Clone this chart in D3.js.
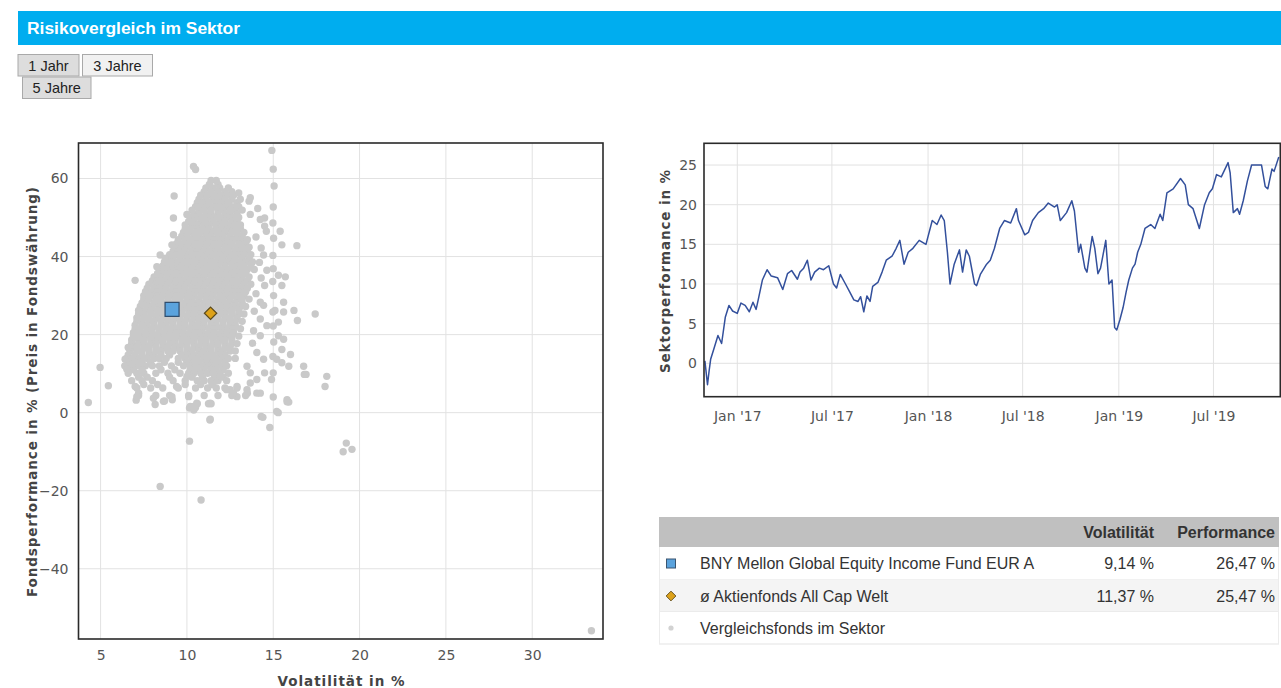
<!DOCTYPE html>
<html><head><meta charset="utf-8">
<script src="https://cdn.jsdelivr.net/npm/d3@7"></script>
<style>body{margin:0;background:#fff;overflow:hidden}svg{display:block}</style>
</head><body><svg id="c" width="1281" height="688"></svg>
<script>
// ---------- data ----------
const titleText = "Risikovergleich im Sektor";
const periodButtons = ["1 Jahr", "3 Jahre", "5 Jahre"];
const volTicks = [5, 10, 15, 20, 25, 30];
const perfTicks = [-40, -20, 0, 20, 40, 60];
const sectorTicks = [0, 5, 10, 15, 20, 25];
const legendNames = ["BNY Mellon Global Equity Income Fund EUR A", "ø Aktienfonds All Cap Welt", "Vergleichsfonds im Sektor"];
const legendVol = [9.14, 11.37, null];
const legendPerf = [26.47, 25.47, null];
const tableHeaders = ["Volatilität", "Performance"];

// sector funds, dense core read row by row: [performance, [volatilities...]]
const sectorRows = [
 [59.5,[11.4,11.7]],
 [58.5,[11.3,11.8]],
 [57.6,[11.1,11.5,11.9,12.4]],
 [56.6,[11.0,11.4,11.8,12.2,12.6]],
 [55.7,[10.8,11.2,11.6,12.0,12.3,12.7]],
 [54.7,[10.7,11.1,11.5,11.8,12.2,12.6]],
 [53.8,[10.6,10.9,11.3,11.7,12.0,12.4,12.9]],
 [52.8,[10.5,10.8,11.2,11.6,11.9,12.3,12.6,13.0]],
 [51.9,[10.3,10.7,11.0,11.4,11.8,12.1,12.5,12.8,13.2]],
 [50.9,[10.4,10.7,11.1,11.4,11.8,12.2,12.5,12.9]],
 [50.0,[10.2,10.5,10.9,11.2,11.6,11.9,12.3,12.7,13.0]],
 [49.0,[10.1,10.4,10.8,11.1,11.5,11.9,12.2,12.6,12.9]],
 [48.1,[9.9,10.3,10.6,11.0,11.3,11.7,12.1,12.4,12.8,13.1]],
 [47.1,[9.9,10.2,10.6,10.9,11.3,11.7,12.0,12.4,12.7,13.1]],
 [46.2,[9.8,10.1,10.5,10.8,11.2,11.5,11.9,12.2,12.6,12.9,13.3]],
 [45.2,[9.7,10.0,10.4,10.7,11.1,11.4,11.8,12.1,12.5,12.9,13.2]],
 [44.3,[9.5,9.9,10.2,10.6,10.9,11.3,11.6,12.0,12.4,12.7,13.1,13.5]],
 [43.3,[9.4,9.8,10.1,10.5,10.8,11.2,11.6,11.9,12.3,12.6,13.0,13.4]],
 [42.4,[9.3,9.7,10.0,10.4,10.7,11.1,11.5,11.8,12.2,12.5,12.9,13.2,13.6]],
 [41.4,[9.2,9.5,9.9,10.3,10.6,11.0,11.3,11.7,12.0,12.4,12.8,13.1,13.5]],
 [40.5,[9.0,9.4,9.8,10.1,10.5,10.8,11.2,11.5,11.9,12.3,12.6,13.0,13.3,13.7]],
 [39.5,[8.9,9.2,9.6,10.0,10.3,10.7,11.0,11.4,11.8,12.1,12.5,12.8,13.2,13.6]],
 [38.6,[8.7,9.1,9.5,9.8,10.2,10.5,10.9,11.3,11.6,12.0,12.3,12.7,13.1,13.4,13.8]],
 [37.6,[8.6,8.9,9.3,9.7,10.0,10.4,10.8,11.1,11.5,11.8,12.2,12.6,12.9,13.3,13.7]],
 [36.7,[8.4,8.8,9.2,9.5,9.9,10.3,10.6,11.0,11.3,11.7,12.1,12.4,12.8,13.1,13.5,13.9]],
 [35.7,[8.3,8.6,9.0,9.4,9.7,10.1,10.5,10.8,11.2,11.5,11.9,12.3,12.6,13.0,13.4]],
 [34.8,[8.1,8.5,8.9,9.2,9.6,10.0,10.3,10.7,11.0,11.4,11.8,12.1,12.5,12.8,13.2,13.6]],
 [33.8,[8.0,8.3,8.7,9.1,9.4,9.8,10.2,10.5,10.9,11.3,11.6,12.0,12.3,12.7,13.1,13.5]],
 [32.9,[7.8,8.2,8.6,8.9,9.3,9.7,10.0,10.4,10.8,11.1,11.5,11.9,12.2,12.6,12.9,13.3,13.7]],
 [31.9,[7.7,8.1,8.4,8.8,9.2,9.5,9.9,10.3,10.6,11.0,11.4,11.7,12.1,12.4,12.8,13.2,13.5]],
 [31.0,[7.6,8.0,8.3,8.7,9.1,9.4,9.8,10.2,10.5,10.9,11.2,11.6,12.0,12.3,12.7,13.0,13.4]],
 [30.0,[7.5,7.9,8.3,8.6,9.0,9.4,9.7,10.1,10.4,10.8,11.2,11.5,11.9,12.3,12.6,13.0,13.3]],
 [29.1,[7.5,7.8,8.2,8.5,8.9,9.3,9.6,10.0,10.3,10.7,11.1,11.4,11.8,12.1,12.5,12.9,13.2,13.6]],
 [28.1,[7.4,7.7,8.1,8.4,8.8,9.2,9.5,9.9,10.2,10.6,11.0,11.3,11.7,12.1,12.4,12.8,13.2]],
 [27.2,[7.3,7.7,8.0,8.4,8.7,9.1,9.5,9.8,10.2,10.5,10.9,11.3,11.6,12.0,12.3,12.7,13.1,13.4]],
 [26.2,[7.2,7.6,7.9,8.3,8.6,9.0,9.4,9.7,10.1,10.5,10.8,11.2,11.5,11.9,12.3,12.6,13.0]],
 [25.3,[7.2,7.5,7.9,8.3,8.6,9.0,9.4,9.7,10.1,10.4,10.8,11.2,11.5,11.9,12.2,12.6,13.0,13.3]],
 [24.3,[7.1,7.5,7.8,8.2,8.6,8.9,9.3,9.6,10.0,10.4,10.7,11.1,11.5,11.8,12.2,12.5,12.9]],
 [23.4,[7.1,7.4,7.8,8.1,8.5,8.9,9.2,9.6,9.9,10.3,10.7,11.0,11.4,11.7,12.1,12.5,12.8,13.2]],
 [22.4,[7.0,7.4,7.7,8.1,8.5,8.8,9.2,9.6,9.9,10.3,10.6,11.0,11.4,11.7,12.1,12.5,12.8]],
 [21.5,[7.0,7.3,7.7,8.0,8.4,8.8,9.1,9.5,9.8,10.2,10.6,10.9,11.3,11.6,12.0,12.4,12.7,13.1]],
 [20.5,[6.9,7.3,7.6,8.0,8.4,8.7,9.1,9.4,9.8,10.2,10.5,10.9,11.3,11.6,12.0,12.3,12.7]],
 [19.6,[6.9,7.2,7.6,8.0,8.3,8.7,9.0,9.4,9.8,10.1,10.5,10.8,11.2,11.6,11.9,12.3,12.6,13.0]],
 [18.6,[6.8,7.2,7.5,7.9,8.3,8.6,9.0,9.3,9.7,10.1,10.4,10.8,11.1,11.5,11.9,12.2,12.6]],
 [17.7,[6.8,7.2,7.5,7.9,8.2,8.6,9.0,9.3,9.7,10.0,10.4,10.8,11.1,11.5,11.8,12.2,12.6,12.9]],
 [16.7,[6.8,7.1,7.5,7.8,8.2,8.6,8.9,9.3,9.6,10.0,10.4,10.7,11.1,11.4,11.8,12.2,12.5]],
 [15.8,[6.7,7.1,7.4,7.8,8.2,8.5,8.9,9.2,9.6,10.0,10.3,10.7,11.0,11.4,11.8,12.1,12.5,12.8]],
 [14.8,[6.6,7.0,7.4,7.8,8.1,8.5,9.0,9.7,10.1,10.4,10.8,11.2,11.5,11.9,12.2]],
 [13.9,[6.5,6.9,7.3,7.7,8.1,8.4,8.8,9.5,9.9,10.3,10.6,11.0,11.3,11.7,12.1,12.4,12.8]],
 [12.9,[6.6,7.0,7.4,7.9,8.7,9.5,10.0,10.4,10.7,11.1,11.5,11.8,12.2]],
 [12.0,[6.4,6.8,7.2,7.6,8.0,8.4,9.1,9.8,10.2,10.5,10.9,11.3,11.6,12.0,12.3]],
 [11.0,[6.9,7.4,8.5,9.3,10.2,10.6,11.0,11.4,11.7,12.1]],
 [10.1,[6.6,7.1,7.5,8.2,8.9,9.6,10.1,10.4,10.8,11.2,11.5,11.9,12.4]],
 [9.1,[7.2,7.7,9.0,10.3,10.9,11.6,12.1]],
 [8.2,[6.8,7.4,8.0,9.2,9.9,10.6,11.0,11.4,11.8,12.3]],
 [7.2,[7.5,8.3,9.9,10.8,11.5]],
 [6.3,[7.1,7.9,8.6,9.5,10.5,11.2,11.7,12.2,12.9]],
 [4.4,[7.2,8.2,9.0,10.1,11.0,11.8,12.6,13.4]]
];
// scattered sector funds outside the core: [volatility, performance]
const sectorExtra = [
 [14.92,67.2],[15.0,62.4],[15.05,58.1],[15.0,52.7],[10.38,63.1],[10.5,62.3],[9.26,55.5],[7.0,33.9],[4.97,11.6],[4.29,2.6],
 [5.45,6.9],[17.43,25.3],[16.37,42.8],[16.76,11.9],[16.8,9.8],[15.8,2.8],[15.2,0.3],[14.3,-1.0],[11.35,-1.7],[11.25,2.3],
 [10.15,-7.3],[8.45,-18.9],[10.82,-22.4],[11.33,-1.9],[14.4,-1.2],[14.8,-3.8],[15.29,0.0],[19.23,-7.8],[19.05,-10.0],[19.56,-9.4],
 [33.43,-55.9],[10.6,2.3],[10.5,1.3],[10.15,1.2],[11.4,2.3],[7.06,3.2],[8.16,2.1],[8.7,3.0],[9.15,3.3],[15.9,2.7],
 [14.98,48.6],[15.02,44.7],[14.98,40.3],[15.0,36.9],[14.97,33.6],[15.02,30.0],[14.98,25.8],[15.0,22.2],[15.03,18.1],[14.98,14.4],
 [15.0,10.2],[15.0,4.0],
 [13.09,54.7],[13.67,55.1],[13.67,50.8],[14.25,49.5],[14.5,49.9],[14.5,47.8],[14.6,46.5],[15.4,46.5],[15.5,43.0],[14.44,40.4],
 [14.63,36.5],[15.3,35.2],[15.7,34.8],[15.5,32.6],[14.5,32.6],[14.25,28.3],[14.44,27.5],[15.6,28.3],[15.1,26.2],[15.6,25.8],
 [16.2,26.2],[16.4,23.6],[14.25,24.0],[14.63,22.3],[15.3,23.2],[13.86,21.0],[14.25,19.7],[15.3,19.7],[15.6,18.8],[15.5,16.2],
 [16.0,14.9],[14.05,15.4],[14.44,13.7],[15.2,13.7],[15.5,12.8],[15.9,11.9],[16.9,9.8],[18.1,9.3],[18.0,6.7],[13.48,11.9],
 [13.67,10.2],[14.5,10.2],[14.9,8.5],[13.48,5.9],[14.05,5.0],[15.8,3.3],[12.5,5.9],[12.9,4.1],[10.19,1.6],[11.35,2.4],[10.4,0.7],
 [8.26,37.4],[8.45,40.4],[8.74,39.6],[9.13,43.0],[9.22,49.9],[9.22,45.6],[10.0,50.8],[6.6,16.7],[6.42,13.7],[6.81,12.4],
 [6.52,11.1],[7.0,6.7],[7.2,5.0],[7.1,4.1],[8.06,3.7],[8.64,2.9],[9.13,4.1],[9.4,6.7],[10.0,9.3],[10.1,4.1],
 [10.38,1.6],[10.57,2.4],[11.45,7.2],[11.93,9.3],[12.3,5.9],[12.7,5.0],[12.9,6.7],[13.5,5.0],[13.67,7.6],[14.05,8.5],[14.25,5.0],
 [13.6,54.2],[13.0,56.3],[14.1,52.3],[14.0,45.0],[14.3,42.2],[14.2,38.5],[14.3,34.5],[14.0,30.5],[13.9,26.0],[13.8,17.8]
];

// sector performance line
const lineDates = ["2016-10-31","2016-11-05","2016-11-08","2016-11-11","2016-11-18","2016-11-25","2016-12-02","2016-12-09","2016-12-16","2016-12-23",
 "2017-01-01","2017-01-08","2017-01-16","2017-01-24","2017-01-31","2017-02-06","2017-02-10","2017-02-18","2017-02-27","2017-03-07",
 "2017-03-19","2017-03-29","2017-04-07","2017-04-15","2017-04-26","2017-05-01","2017-05-08","2017-05-15","2017-05-22","2017-05-29",
 "2017-06-07","2017-06-15","2017-06-25","2017-07-04","2017-07-10","2017-07-17","2017-07-27","2017-08-04","2017-08-12","2017-08-20",
 "2017-08-25","2017-08-31","2017-09-06","2017-09-12","2017-09-17","2017-09-27","2017-10-05","2017-10-13","2017-10-24","2017-11-01",
 "2017-11-08","2017-11-16","2017-11-24","2017-12-03","2017-12-15","2017-12-28","2018-01-09","2018-01-18","2018-01-26","2018-02-01",
 "2018-02-07","2018-02-12","2018-02-20","2018-03-02","2018-03-08","2018-03-15","2018-03-21","2018-03-31","2018-04-04","2018-04-11",
 "2018-04-23","2018-04-30","2018-05-08","2018-05-18","2018-05-27","2018-06-08","2018-06-19","2018-06-23","2018-07-05","2018-07-12",
 "2018-07-20","2018-07-31","2018-08-10","2018-08-19","2018-08-31","2018-09-05","2018-09-11","2018-09-23","2018-10-03","2018-10-08",
 "2018-10-16","2018-10-20","2018-10-28","2018-11-01","2018-11-11","2018-11-16","2018-11-22","2018-11-27","2018-12-07","2018-12-13",
 "2018-12-19","2018-12-24","2018-12-28","2019-01-03","2019-01-09","2019-01-15","2019-01-20","2019-01-27","2019-02-01","2019-02-06",
 "2019-02-12","2019-02-20","2019-03-03","2019-03-11","2019-03-21","2019-03-26","2019-04-03","2019-04-15","2019-04-29","2019-05-08",
 "2019-05-14","2019-05-23","2019-06-04","2019-06-14","2019-06-23","2019-06-29","2019-07-07","2019-07-16","2019-07-29","2019-08-02",
 "2019-08-08","2019-08-16","2019-08-20","2019-08-27","2019-09-04","2019-09-12","2019-10-01","2019-10-08","2019-10-13","2019-10-21",
 "2019-10-25","2019-11-03"];
const lineValues = [0.3,-2.7,-1.0,0.5,2.0,3.5,2.5,5.8,7.3,6.6,
 6.3,7.6,7.3,6.5,7.7,6.8,8.0,10.5,11.8,11.0,
 10.8,9.3,11.3,11.7,10.6,11.5,12.0,13.0,10.5,11.5,
 12.0,11.8,12.3,10.0,9.5,11.2,10.0,9.0,8.0,7.8,
 8.4,6.5,8.5,7.8,9.7,10.2,11.5,13.0,13.5,14.5,
 15.5,12.5,14.0,14.5,15.5,15.0,18.0,17.5,18.7,18.0,
 14.0,10.0,12.5,14.3,11.5,14.3,13.5,10.0,9.8,11.2,
 12.5,13.0,14.5,17.0,18.0,17.7,19.5,18.0,16.2,16.5,
 18.0,19.0,19.5,20.2,19.7,20.0,18.0,19.0,20.5,19.2,
 14.0,15.0,12.0,11.5,16.0,14.5,11.3,12.0,15.5,10.0,
 10.5,4.5,4.2,5.5,7.0,9.0,10.5,12.0,12.5,14.0,
 15.0,17.0,17.5,17.0,18.8,18.0,21.5,22.0,23.3,22.5,
 20.0,19.5,17.0,20.0,21.5,22.0,23.8,23.5,25.3,24.0,
 19.0,19.5,18.8,20.5,23.0,25.0,25.0,22.3,22.0,24.5,
 24.2,26.0];

// ---------- drawing ----------
const svg = d3.select("#c");
const FONT_AX = "DejaVu Sans, Verdana, sans-serif";
const FONT_UI = "Liberation Sans, Arial, sans-serif";

// title bar
svg.append("rect").attr("x", 18).attr("y", 11).attr("width", 1263).attr("height", 34).attr("fill", "#00adef");
svg.append("text").attr("x", 27).attr("y", 33.5).text(titleText)
  .attr("fill", "#fff").attr("font-family", FONT_UI).attr("font-weight", "bold").attr("font-size", 16)
  .attr("textLength", 213).attr("lengthAdjust", "spacingAndGlyphs");

// period buttons
const btnBoxes = [[18, 54.5, 61, 21.5, "#dddddd"], [82.5, 54.5, 70, 21.5, "#f1f1f1"], [22.5, 77, 68.5, 21.5, "#dddddd"]];
periodButtons.forEach((label, i) => {
  const b = btnBoxes[i];
  const g = svg.append("g");
  g.append("rect").attr("x", b[0]).attr("y", b[1]).attr("width", b[2]).attr("height", b[3])
    .attr("fill", b[4]).attr("stroke", "#a9a9a9").attr("stroke-width", 1);
  g.append("text").attr("x", b[0] + b[2] / 2).attr("y", b[1] + 16).attr("text-anchor", "middle")
    .attr("font-family", FONT_UI).attr("font-size", 14.5).attr("fill", "#222").text(label);
});

// ---------- scatter ----------
const sx = d3.scaleLinear().domain([3.72, 34.1]).range([78.5, 603]);
const sy = d3.scaleLinear().domain([-58.0, 69.1]).range([639, 143]);
const sp = svg.append("g");
sp.append("g").selectAll("line").data(volTicks).join("line")
  .attr("x1", d => sx(d)).attr("x2", d => sx(d)).attr("y1", 143).attr("y2", 639)
  .attr("stroke", "#e2e2e2").attr("stroke-width", 1);
sp.append("g").selectAll("line").data(perfTicks).join("line")
  .attr("y1", d => sy(d)).attr("y2", d => sy(d)).attr("x1", 78.5).attr("x2", 603)
  .attr("stroke", "#e2e2e2").attr("stroke-width", 1);

const sectorPts = sectorRows.flatMap(r => r[1].map(v => [v, r[0]])).concat(sectorExtra);
sp.append("g").selectAll("circle").data(sectorPts).join("circle")
  .attr("cx", d => sx(d[0])).attr("cy", d => sy(d[1])).attr("r", 3.7).attr("fill", "#c9c9c9");

// fund square and average diamond
sp.append("rect").attr("x", sx(legendVol[0]) - 7).attr("y", sy(legendPerf[0]) - 7).attr("width", 14).attr("height", 14)
  .attr("fill", "#5ba3dd").attr("stroke", "#2d4b6b").attr("stroke-width", 1.2);
sp.append("path").attr("d", d3.symbol(d3.symbolDiamond2, 98)())
  .attr("transform", `translate(${sx(legendVol[1])},${sy(legendPerf[1])})`)
  .attr("fill", "#dda21a").attr("stroke", "#5b4a1c").attr("stroke-width", 1.2);

sp.append("rect").attr("x", 78.5).attr("y", 143).attr("width", 524.5).attr("height", 496)
  .attr("fill", "none").attr("stroke", "#2a2a2a").attr("stroke-width", 1.6);

const xAx = sp.append("g").attr("transform", "translate(0,639)")
  .call(d3.axisBottom(sx).tickValues(volTicks).tickSize(0).tickPadding(11));
const yAx = sp.append("g").attr("transform", "translate(78.5,0)")
  .call(d3.axisLeft(sy).tickValues(perfTicks).tickSize(0).tickPadding(10));
[xAx, yAx].forEach(a => {
  a.select(".domain").remove();
  a.selectAll("text").attr("font-family", FONT_AX).attr("font-size", 14).attr("fill", "#555");
});
sp.append("text").attr("x", 341).attr("y", 686).attr("text-anchor", "middle")
  .attr("font-family", FONT_AX).attr("font-weight", "bold").attr("font-size", 13.5).attr("fill", "#444")
  .attr("textLength", 127).attr("lengthAdjust", "spacing").text("Volatilität in %");
sp.append("text").attr("transform", "translate(37,392) rotate(-90)").attr("text-anchor", "middle")
  .attr("font-family", FONT_AX).attr("font-weight", "bold").attr("font-size", 13.5).attr("fill", "#444")
  .attr("textLength", 410).attr("lengthAdjust", "spacing").text("Fondsperformance in % (Preis in Fondswährung)");

// ---------- sector line ----------
const lx = d3.scaleUtc().domain([new Date(Date.UTC(2016, 9, 29, 7)), new Date(Date.UTC(2019, 10, 5, 22))]).range([704, 1280.3]);
const ly = d3.scaleLinear().domain([-4.21, 27.74]).range([396.7, 143.3]);
const lp = svg.append("g");
const monthTicks = lx.ticks(d3.utcMonth.every(6));
lp.append("g").selectAll("line").data(monthTicks).join("line")
  .attr("x1", d => lx(d)).attr("x2", d => lx(d)).attr("y1", 143.3).attr("y2", 396.7)
  .attr("stroke", "#e2e2e2");
lp.append("g").selectAll("line").data(sectorTicks).join("line")
  .attr("y1", d => ly(d)).attr("y2", d => ly(d)).attr("x1", 704).attr("x2", 1280.3)
  .attr("stroke", "#e2e2e2");
const lineData = lineDates.map((d, i) => [new Date(d), lineValues[i]]);
lp.append("path").datum(lineData)
  .attr("d", d3.line().x(d => lx(d[0])).y(d => ly(d[1])))
  .attr("fill", "none").attr("stroke", "#33509c").attr("stroke-width", 1.5).attr("stroke-linejoin", "round");
lp.append("rect").attr("x", 704).attr("y", 143.3).attr("width", 576.3).attr("height", 253.4)
  .attr("fill", "none").attr("stroke", "#2a2a2a").attr("stroke-width", 1.6);
const lxAx = lp.append("g").attr("transform", "translate(0,396.7)")
  .call(d3.axisBottom(lx).tickValues(monthTicks).tickFormat(d3.utcFormat("%b '%y")).tickSize(0).tickPadding(14));
const lyAx = lp.append("g").attr("transform", "translate(704,0)")
  .call(d3.axisLeft(ly).tickValues(sectorTicks).tickSize(0).tickPadding(7));
[lxAx, lyAx].forEach(a => {
  a.select(".domain").remove();
  a.selectAll("text").attr("font-family", FONT_AX).attr("font-size", 14).attr("fill", "#555");
});
lp.append("text").attr("transform", "translate(670,271.5) rotate(-90)").attr("text-anchor", "middle")
  .attr("font-family", FONT_AX).attr("font-weight", "bold").attr("font-size", 13.5).attr("fill", "#444")
  .attr("textLength", 203).attr("lengthAdjust", "spacing").text("Sektorperformance in %");

// ---------- legend table ----------
const tb = svg.append("g");
const tL = 659, tR = 1279;
tb.append("rect").attr("x", tL).attr("y", 517).attr("width", tR - tL).attr("height", 30).attr("fill", "#c0c0c0");
const rowTops = [547, 580, 612];
const rowFill = ["#ffffff", "#f4f4f4", "#ffffff"];
rowTops.forEach((t, i) => {
  const h = (i < 2 ? rowTops[i + 1] : 644) - t;
  tb.append("rect").attr("x", tL).attr("y", t).attr("width", tR - tL).attr("height", h).attr("fill", rowFill[i]);
  tb.append("line").attr("x1", tL).attr("x2", tR).attr("y1", t + h).attr("y2", t + h).attr("stroke", "#e3e3e3");
});
tb.append("line").attr("x1", tL + 0.5).attr("x2", tL + 0.5).attr("y1", 547).attr("y2", 644).attr("stroke", "#ececec");
tb.append("line").attr("x1", tR - 0.5).attr("x2", tR - 0.5).attr("y1", 547).attr("y2", 644).attr("stroke", "#ececec");
const colRight = [1154, 1275];
tableHeaders.forEach((h, i) => {
  tb.append("text").attr("x", colRight[i]).attr("y", 538).attr("text-anchor", "end")
    .attr("font-family", FONT_UI).attr("font-weight", "bold").attr("font-size", 16).attr("fill", "#333").text(h);
});
const fmt = v => v.toFixed(2).replace(".", ",") + " %";
legendNames.forEach((n, i) => {
  const t = rowTops[i];
  const h = (i < 2 ? rowTops[i + 1] : 644) - t;
  const cy = t + h / 2;
  if (i === 0) tb.append("rect").attr("x", 666.5).attr("y", cy - 4.5).attr("width", 9).attr("height", 9)
    .attr("fill", "#5ba3dd").attr("stroke", "#3a5570").attr("stroke-width", 1);
  if (i === 1) tb.append("path").attr("d", d3.symbol(d3.symbolDiamond2, 60)())
    .attr("transform", `translate(671,${cy})`).attr("fill", "#dda21a").attr("stroke", "#6a5420").attr("stroke-width", 1);
  if (i === 2) tb.append("circle").attr("cx", 671).attr("cy", cy).attr("r", 2.6).attr("fill", "#d2d2d2");
  tb.append("text").attr("x", 700).attr("y", cy + 5.5).attr("font-family", FONT_UI).attr("font-size", 16)
    .attr("fill", "#333").text(n);
  if (legendVol[i] != null) {
    tb.append("text").attr("x", colRight[0]).attr("y", cy + 5.5).attr("text-anchor", "end")
      .attr("font-family", FONT_UI).attr("font-size", 16).attr("fill", "#333").text(fmt(legendVol[i]));
    tb.append("text").attr("x", colRight[1]).attr("y", cy + 5.5).attr("text-anchor", "end")
      .attr("font-family", FONT_UI).attr("font-size", 16).attr("fill", "#333").text(fmt(legendPerf[i]));
  }
});
</script></body></html>
